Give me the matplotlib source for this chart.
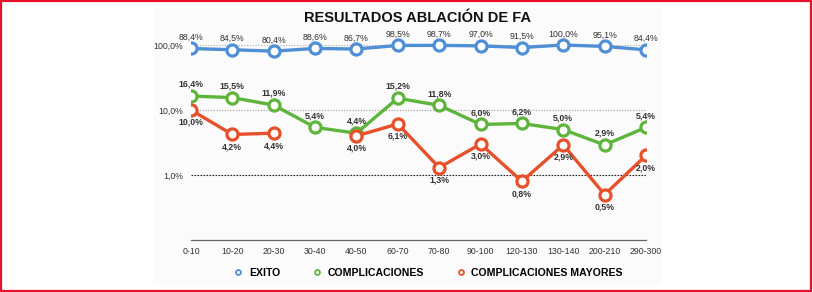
import numpy as np
import matplotlib
matplotlib.use("Agg")
import matplotlib.pyplot as plt
from matplotlib.lines import Line2D
from matplotlib.patches import Rectangle

plt.rcParams['font.family'] = ['Liberation Sans', 'DejaVu Sans']

# Data (percentages)
categories = ['0-10', '10-20', '20-30', '30-40', '40-50', '60-70', '70-80',
              '90-100', '120-130', '130-140', '200-210', '290-300']
exito = [88.4, 84.5, 80.4, 88.6, 86.7, 98.5, 98.7, 97.0, 91.5, 100.0, 95.1, 84.4]
complicaciones = [16.4, 15.5, 11.9, 5.4, 4.4, 15.2, 11.8, 6.0, 6.2, 5.0, 2.9, 5.4]
mayores = [10.0, 4.2, 4.4, np.nan, 4.0, 6.1, 1.3, 3.0, 0.8, 2.9, 0.5, 2.0]

ytick_vals = [1, 10, 100]

# Colours
c_exito = '#4f8fd6'
c_comp = '#5db53c'
c_may = '#e8502a'

W, H = 813, 292
fig = plt.figure(figsize=(W / 100, H / 100), dpi=100)

# faint panel behind the chart
fig.patches.append(Rectangle((153 / W, 1 - 285 / H), (662 - 153) / W, (285 - 8) / H,
                             transform=fig.transFigure, facecolor='#fbfbfb',
                             edgecolor='none', zorder=-10))
# red frame
fig.patches.append(Rectangle((0.001, 0.004), 0.997, 0.993, transform=fig.transFigure,
                             fill=False, edgecolor='#e8102a', linewidth=1.6, zorder=10))

# axes placed in pixel coords: x 191..646, y 28..240
ax = fig.add_axes([191 / W, 1 - 240 / H, (646 - 191) / W, (240 - 28) / H])
ax.patch.set_alpha(0)
ax.set_yscale('log')
px_per_decade = 65.0
ax.set_ylim(0.1, 0.1 * 10 ** ((240 - 28) / px_per_decade))
ax.set_xlim(0, len(categories) - 1)

x = np.arange(len(categories))

# grid lines
ax.axhline(100, color='#aaaaaa', lw=0.8, ls=(0, (1, 1.5)), zorder=1)
ax.axhline(10, color='#999999', lw=0.8, ls=(0, (1, 1.5)), zorder=1)
ax.axhline(1, color='#222222', lw=0.8, ls=(0, (1.5, 1.2)), zorder=1)

mk = dict(marker='o', markersize=8, markerfacecolor='white', markeredgewidth=2.3,
          linewidth=2.4, zorder=3)
ax.plot(x, exito, color=c_exito, **mk)
ax.plot(x, complicaciones, color=c_comp, **mk)
ax.plot(x, mayores, color=c_may, **mk)

def fmt(v):
    return f"{v:.1f}".replace('.', ',') + '%'

for xi, v in zip(x, exito):
    ax.annotate(fmt(v), (xi, v), xytext=(0, 8), textcoords='offset points',
                ha='center', va='center', fontsize=6.3, color='#333333')
for xi, v in zip(x, complicaciones):
    ax.annotate(fmt(v), (xi, v), xytext=(0, 8.5), textcoords='offset points',
                ha='center', va='center', fontsize=6.3, color='#333333',
                fontweight='bold')
for xi, v in zip(x, mayores):
    if np.isnan(v):
        continue
    ax.annotate(fmt(v), (xi, v), xytext=(0, -9), textcoords='offset points',
                ha='center', va='center', fontsize=6.3, color='#333333',
                fontweight='bold')

ax.set_xticks(x)
ax.set_xticklabels(categories, fontsize=6.3, color='#333333')
ax.set_yticks(ytick_vals)
ax.set_yticklabels([fmt(v) for v in ytick_vals], fontsize=6.3, color='#333333')
ax.yaxis.set_minor_locator(matplotlib.ticker.NullLocator())
ax.tick_params(axis='both', length=0)
ax.tick_params(axis='x', pad=5)
ax.tick_params(axis='y', pad=6)

for s in ['top', 'right', 'left']:
    ax.spines[s].set_visible(False)
ax.spines['bottom'].set_color('#666666')
ax.spines['bottom'].set_linewidth(0.9)

fig.text(418 / W, 1 - 18 / H, 'RESULTADOS ABLACIÓN DE FA', ha='center', va='center',
         fontsize=10.5, fontweight='bold', color='#111111')

handles = [Line2D([], [], ls='none', marker='o', markersize=3.5, markerfacecolor='white',
                  markeredgewidth=1.3, markeredgecolor=c)
           for c in (c_exito, c_comp, c_may)]
fig.legend(handles, ['EXITO', 'COMPLICACIONES', 'COMPLICACIONES MAYORES'],
           loc='center', bbox_to_anchor=(428 / W, 1 - 273 / H), ncol=3, frameon=False,
           prop={'size': 7.6, 'weight': 'bold'}, handlelength=1.0, handletextpad=0.5,
           columnspacing=3.0)

fig.savefig('out.png', dpi=100)
